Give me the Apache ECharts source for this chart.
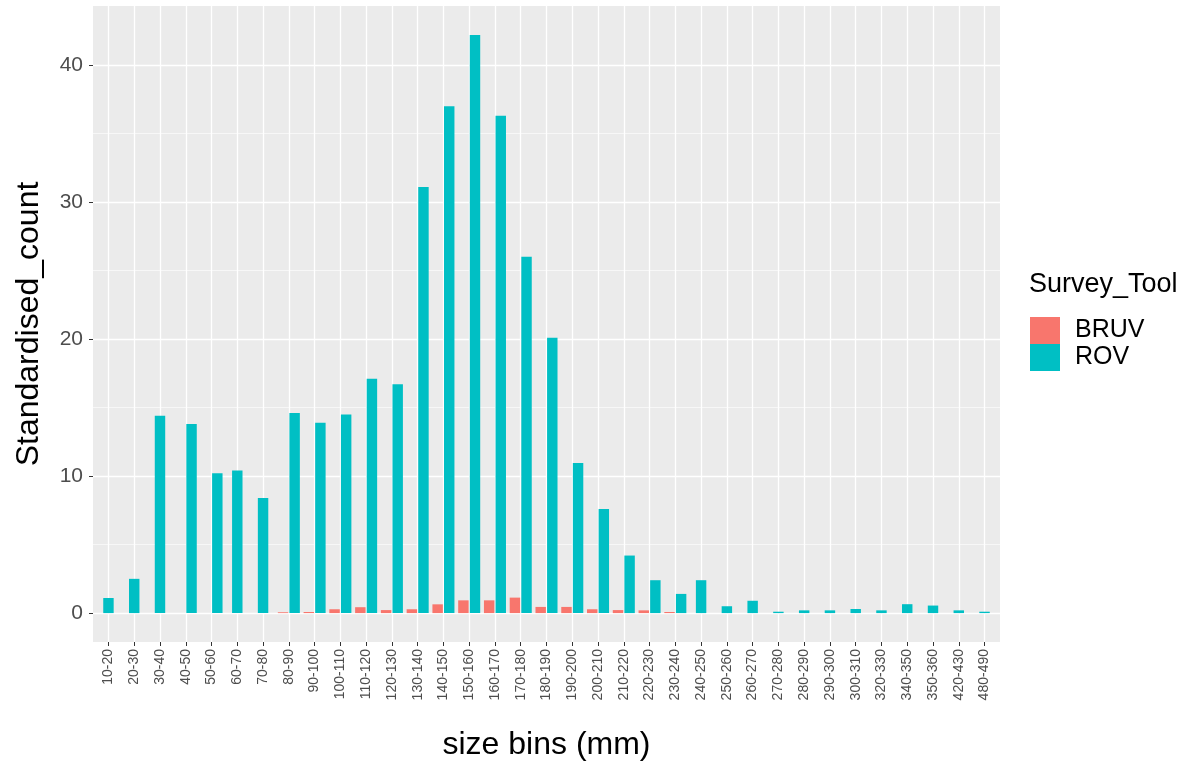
<!DOCTYPE html>
<html><head><meta charset="utf-8">
<script src="https://cdn.jsdelivr.net/npm/echarts@6/dist/echarts.min.js"></script>
<style>html,body{margin:0;padding:0;background:#fff}#c{width:1193px;height:772px}</style>
</head><body><div id="c"></div>
<script>
const categories = ['10-20','20-30','30-40','40-50','50-60','60-70','70-80','80-90','90-100','100-110',
  '110-120','120-130','130-140','140-150','150-160','160-170','170-180','180-190','190-200','200-210',
  '210-220','220-230','230-240','240-250','250-260','260-270','270-280','280-290','290-300','300-310',
  '320-330','340-350','350-360','420-430','480-490'];
const rovValues = [1.1, 2.5, 14.4, 13.8, 10.2, 10.4, 8.4, 14.6, 13.9, 14.5,
  17.1, 16.7, 31.1, 37.0, 42.2, 36.3, 26.0, 20.1, 10.95, 7.6,
  4.2, 2.4, 1.4, 2.4, 0.5, 0.9, 0.1, 0.2, 0.2, 0.3,
  0.2, 0.65, 0.55, 0.2, 0.1];
const bruvValues = [null, null, null, 0, 0, null, null, 0.06, 0.08, 0.28,
  0.43, 0.22, 0.28, 0.64, 0.93, 0.93, 1.13, 0.45, 0.45, 0.28,
  0.22, 0.2, 0.08, null, null, null, null, null, null, null,
  null, null, null, null, null];
const yTickValues = [0, 10, 20, 30, 40];
const yMinorValues = [5, 15, 25, 35];
const seriesNames = ['BRUV', 'ROV'];
const seriesColors = ['#F8766D', '#00BFC4'];
const legendTitle = 'Survey_Tool';
const xTitle = 'size bins (mm)';
const yTitle = 'Standardised_count';

const catIdx = categories.map((_, i) => i);
const yMax = Math.max(...rovValues);
const yExp = yMax * 0.05;

function makeData(values, other) {
  const out = [];
  values.forEach((v, i) => { if (v != null) out.push([i, v, other[i] == null ? 0 : 1]); });
  return out;
}

function renderBar(side) {
  return function (params, api) {
    const i = api.value(0), v = api.value(1), paired = api.value(2);
    const band = api.size([1, 0])[0];
    const slot = band * 0.45;
    const w = slot * 0.9;
    let cx = api.coord([i, 0])[0];
    if (paired) cx += side * slot / 2;
    const top = api.coord([i, v])[1];
    const base = api.coord([i, 0])[1];
    return { type: 'rect', shape: { x: cx - w / 2, y: top, width: w, height: base - top }, style: api.style() };
  };
}

const chart = echarts.init(document.getElementById('c'), null, { renderer: 'canvas' });
chart.setOption({
  animation: false,
  textStyle: { fontFamily: 'Liberation Sans, Arial, sans-serif' },
  title: {
    text: legendTitle, left: 1029, top: 271, padding: 0,
    textStyle: { fontSize: 27, fontWeight: 'normal', color: '#000' }
  },
  legend: {
    data: seriesNames, orient: 'vertical', left: 1030, top: 317, padding: 0,
    itemWidth: 30, itemHeight: 27, itemGap: 0, icon: 'rect',
    textStyle: { fontSize: 25, color: '#000', padding: [0, 0, 0, 10] }
  },
  grid: { left: 93, right: 193, top: 6, bottom: 130, show: true, backgroundColor: '#EBEBEB', borderWidth: 0, containLabel: false },
  xAxis: {
    type: 'value', min: -0.6, max: catIdx.length - 0.4,
    axisLine: { show: false, onZero: false },
    axisTick: { show: true, customValues: catIdx, length: 4, lineStyle: { color: '#333', width: 1 } },
    axisLabel: { customValues: catIdx, formatter: v => categories[v], rotate: 90, fontSize: 14, color: '#4D4D4D', margin: 7 },
    splitLine: { show: true, lineStyle: { color: '#fff', width: 1.3 } },
    name: xTitle, nameLocation: 'middle', nameGap: 87,
    nameTextStyle: { fontSize: 32, color: '#000' }
  },
  yAxis: [{
    type: 'value', min: -yExp, max: yMax + yExp,
    axisLine: { show: false, onZero: false },
    axisTick: { show: true, customValues: yTickValues, length: 4, lineStyle: { color: '#333', width: 1 } },
    axisLabel: { customValues: yTickValues, fontSize: 21, color: '#4D4D4D', margin: 10 },
    splitLine: { show: true, lineStyle: { color: '#fff', width: 1.3 } },
    name: yTitle, nameLocation: 'middle', nameGap: 48, nameRotate: 90,
    nameTextStyle: { fontSize: 32, color: '#000' }
  }, {
    type: 'value', min: -yExp, max: yMax + yExp,
    axisLine: { show: false, onZero: false },
    axisTick: { show: false, customValues: yMinorValues },
    axisLabel: { show: false },
    splitLine: { show: true, lineStyle: { color: '#fff', width: 0.6 } }
  }],
  series: [{
    name: seriesNames[0], type: 'custom', renderItem: renderBar(-1),
    itemStyle: { color: seriesColors[0] }, encode: { x: 0, y: 1 },
    data: makeData(bruvValues, rovValues), z: 3
  }, {
    name: seriesNames[1], type: 'custom', renderItem: renderBar(1),
    itemStyle: { color: seriesColors[1] }, encode: { x: 0, y: 1 },
    data: makeData(rovValues, bruvValues), z: 3
  }]
});
</script></body></html>
